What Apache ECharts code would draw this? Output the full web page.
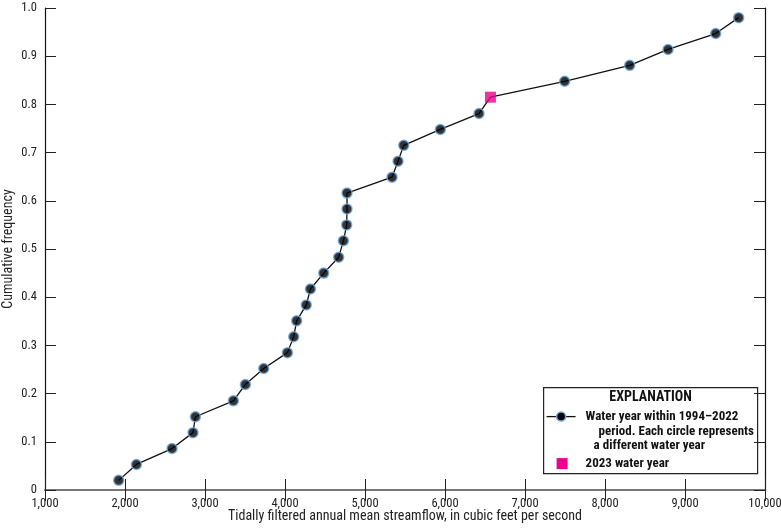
<!doctype html>
<html lang="en">
<head>
  <meta charset="utf-8" />
  <title>Cumulative frequency of tidally filtered annual mean streamflow</title>
  <style>
    html, body { margin:0; padding:0; background:#fff; }
    #chart { width:781px; height:529px; }
  </style>
  <script src="https://cdn.jsdelivr.net/npm/echarts@6/dist/echarts.min.js"></script>
</head>
<body>
  <div id="chart"></div>
  <script>
    const FONT = '"Liberation Sans Narrow", "Arial Narrow", "Roboto Condensed", sans-serif';

    // Annual mean streamflow (ft3/s), sorted, incl. 2023 at position 25
    const flowValues = [
      1921, 2143, 2588, 2850, 2880, 3355, 3505, 3734, 4030, 4109,
      4146, 4266, 4318, 4484, 4671, 4730, 4771, 4775, 4775, 5338,
      5413, 5484, 5942, 6425, 6568, 7496, 8309, 8788, 9384, 9671
    ];
    const freqValues = [
      0.020, 0.053, 0.086, 0.119, 0.152, 0.185, 0.219, 0.252, 0.285, 0.318,
      0.351, 0.384, 0.417, 0.450, 0.483, 0.517, 0.550, 0.583, 0.616, 0.649,
      0.682, 0.715, 0.748, 0.781, 0.815, 0.848, 0.881, 0.914, 0.947, 0.980
    ];
    const index2023 = 24;

    const xTicks = { min: 1000, max: 10000, interval: 1000 };
    const yTicks = { min: 0, max: 1, interval: 0.1 };

    const linePoints = flowValues.map((x, i) => [x, freqValues[i]]);
    const yearPoints = linePoints.filter((p, i) => i !== index2023);
    const point2023 = [linePoints[index2023]];

    const chart = echarts.init(document.getElementById('chart'), null, { renderer: 'canvas' });

    const tick = { show: true, inside: true, length: 11, lineStyle: { color: '#222', width: 1 } };
    const axisLine = { show: true, lineStyle: { color: '#111', width: 1.2 } };

    const option = {
      animation: false,
      backgroundColor: '#fff',
      grid: { left: 45, right: 16, top: 8, bottom: 39, containLabel: false, outerBoundsMode: 'none' },
      xAxis: [
        {
          type: 'value', position: 'bottom', ...xTicks,
          axisLine, axisTick: tick, splitLine: { show: false },
          axisLabel: {
            color: '#222', fontFamily: FONT, fontSize: 12.5, margin: 7,
            formatter: v => v.toLocaleString('en-US')
          },
          name: 'Tidally filtered annual mean streamflow, in cubic feet per second',
          nameLocation: 'middle', nameGap: 19, nameMoveOverlap: false,
          nameTextStyle: { color: '#222', fontFamily: FONT, fontSize: 14 }
        },
        {
          type: 'value', position: 'top', ...xTicks,
          axisLine: { show: true, lineStyle: { color: '#777', width: 2 } },
          axisTick: tick, axisLabel: { show: false }, splitLine: { show: false }
        }
      ],
      yAxis: [
        {
          type: 'value', position: 'left', ...yTicks,
          axisLine, axisTick: tick, splitLine: { show: false },
          axisLabel: {
            color: '#222', fontFamily: FONT, fontSize: 12.5, margin: 8,
            formatter: v => v === 0 ? '0' : v.toFixed(1)
          },
          name: 'Cumulative frequency', nameLocation: 'middle', nameGap: 30, nameMoveOverlap: false,
          nameTextStyle: { color: '#222', fontFamily: FONT, fontSize: 14 }
        },
        {
          type: 'value', position: 'right', ...yTicks,
          axisLine, axisTick: tick, axisLabel: { show: false }, splitLine: { show: false }
        }
      ],
      series: [
        {
          name: 'line', type: 'line', data: linePoints, showSymbol: false,
          lineStyle: { color: '#111', width: 1.3 }, z: 2
        },
        {
          name: 'Water year within 1994–2022 period', type: 'scatter', data: yearPoints,
          symbol: 'circle', symbolSize: 10,
          itemStyle: { color: '#000', borderColor: '#6aa8e0', borderWidth: 1.5 }, z: 3
        },
        {
          name: '2023 water year', type: 'scatter', data: point2023,
          symbol: 'rect', symbolSize: 11,
          itemStyle: { color: '#ec008c' }, z: 4
        }
      ],
      graphic: [
        {
          type: 'group', left: 543, top: 387, z: 10,
          children: [
            { type: 'rect', shape: { x: 0, y: 0, width: 214, height: 86 },
              style: { fill: '#fff', stroke: '#222', lineWidth: 1.2 } },
            { type: 'text', x: 107, y: 9.5, style: { text: 'EXPLANATION', fill: '#111',
              font: 'bold 14px ' + FONT, textAlign: 'center', textVerticalAlign: 'middle' } },
            { type: 'line', shape: { x1: 3, y1: 29, x2: 32, y2: 29 }, style: { stroke: '#111', lineWidth: 1.3 } },
            { type: 'circle', shape: { cx: 17.5, cy: 29, r: 4.5 },
              style: { fill: '#000', stroke: '#6aa8e0', lineWidth: 1.5 } },
            { type: 'text', x: 42, y: 29, style: { text: 'Water year within 1994–2022', fill: '#111',
              font: 'bold 13px ' + FONT, textVerticalAlign: 'middle' } },
            { type: 'text', x: 55, y: 44.5, style: { text: 'period. Each circle represents', fill: '#111',
              font: 'bold 13px ' + FONT, textVerticalAlign: 'middle' } },
            { type: 'text', x: 50, y: 58.5, style: { text: 'a different water year', fill: '#111',
              font: 'bold 13px ' + FONT, textVerticalAlign: 'middle' } },
            { type: 'rect', shape: { x: 13, y: 70.5, width: 11, height: 11 }, style: { fill: '#ec008c' } },
            { type: 'text', x: 42, y: 76, style: { text: '2023 water year', fill: '#111',
              font: 'bold 13px ' + FONT, textVerticalAlign: 'middle' } }
          ]
        }
      ]
    };

    chart.setOption(option);
  </script>
</body>
</html>
